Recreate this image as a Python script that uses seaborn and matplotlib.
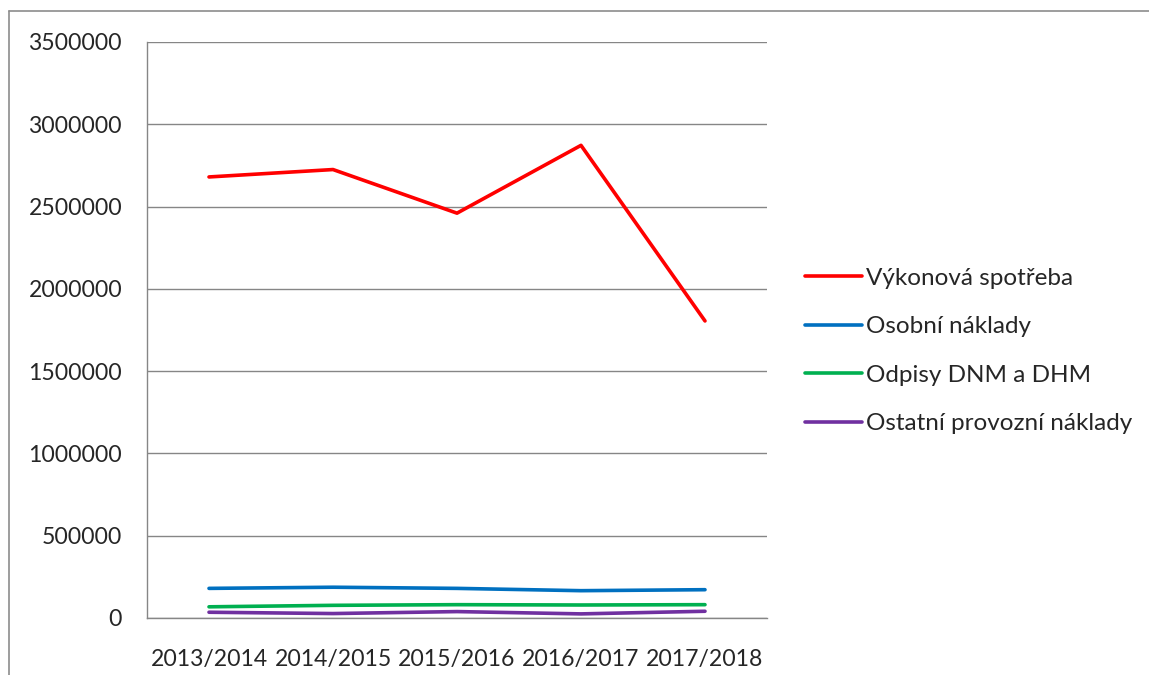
import matplotlib
matplotlib.use("Agg")
import matplotlib.pyplot as plt
import seaborn as sns
import pandas as pd
from matplotlib.lines import Line2D

years = ["2013/2014", "2014/2015", "2015/2016", "2016/2017", "2017/2018"]
vykonova_spotreba = [2680000, 2725000, 2460000, 2872000, 1805000]
osobni_naklady = [180000, 187000, 180000, 166000, 172000]
odpisy = [68000, 77000, 81000, 79000, 81000]
ostatni = [35000, 27000, 39000, 25000, 41000]

series_names = ["Výkonová spotřeba", "Osobní náklady", "Odpisy DNM a DHM", "Ostatní provozní náklady"]
series_values = [vykonova_spotreba, osobni_naklady, odpisy, ostatni]
colors = ["#FF0000", "#0070C0", "#00B050", "#7030A0"]

rows = []
for name, vals in zip(series_names, series_values):
    for i, (y, v) in enumerate(zip(years, vals)):
        rows.append({"idx": i, "year": y, "value": v, "series": name})
df = pd.DataFrame(rows)

sns.set_theme(style="white")
plt.rcParams['font.family'] = ['Lato', 'DejaVu Sans']
FS_TICK = 16.6
FS_LEG = 17.5

fig = plt.figure(figsize=(11.49, 6.75), dpi=100)
ax = fig.add_axes([147/1149, 1-618/675, (767-147)/1149, (618-42)/675])

sns.lineplot(data=df, x="idx", y="value", hue="series", palette=colors,
             hue_order=series_names, linewidth=2.6, ax=ax, legend=False)

ax.set_xlim(-0.5, 4.5)
ax.set_ylim(0, 3500000)
ax.set_yticks(range(0, 3500001, 500000))
ax.set_yticklabels([str(v) for v in range(0, 3500001, 500000)], fontsize=FS_TICK)
ax.set_xticks(range(len(years)))
ax.set_xticklabels(years, fontsize=FS_TICK)
ax.set_xticks([i - 0.5 for i in range(len(years) + 1)], minor=True)
ax.tick_params(axis='x', which='major', length=0, pad=22)
ax.tick_params(axis='x', which='minor', length=8, color='#868686', width=1, direction='out')
ax.tick_params(axis='y', which='major', length=8, color='#868686', width=1, direction='out', pad=10)
ax.set_xlabel("")
ax.set_ylabel("")
ax.grid(axis='y', color='#868686', linewidth=1)
ax.set_axisbelow(True)
for s in ['top', 'right']:
    ax.spines[s].set_visible(False)
for s in ['left', 'bottom']:
    ax.spines[s].set_color('#868686')
    ax.spines[s].set_linewidth(1)

handles = [Line2D([0], [0], color=c, linewidth=2.6) for c in colors]
fig.legend(handles, series_names, loc='center left', bbox_to_anchor=(805/1149, 1-351/675),
           frameon=False, fontsize=FS_LEG, handlelength=2.35, handletextpad=0.15,
           labelspacing=1.13, borderaxespad=0, borderpad=0)

# outer chart border (top and left visible)
fig.add_artist(Line2D([9/1149, 1], [1-11/675, 1-11/675], transform=fig.transFigure,
                      color='#8c8c8c', linewidth=1.2))
fig.add_artist(Line2D([9/1149, 9/1149], [1-11/675, 0], transform=fig.transFigure,
                      color='#8c8c8c', linewidth=1.2))

fig.savefig("out.png", dpi=100, facecolor='white')
